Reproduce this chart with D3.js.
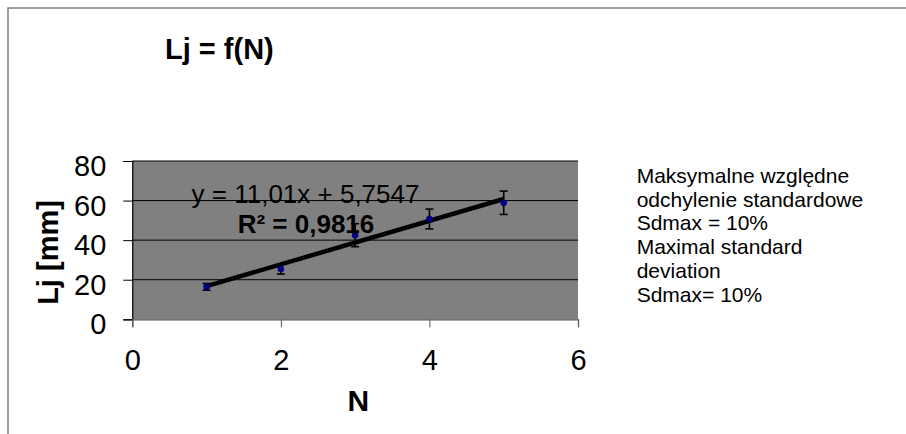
<!DOCTYPE html>
<html><head><meta charset="utf-8">
<script src="https://cdn.jsdelivr.net/npm/d3@7/dist/d3.min.js"></script>
<style>body{margin:0;background:#fff}svg{display:block;font-family:"Liberation Sans",Arial,sans-serif}</style>
</head><body><svg id="c" width="906" height="434"></svg>
<script>
const nValues = [1, 2, 3, 4, 5];
const ljValues = [16.4, 25.4, 42.5, 50.7, 58.9];
const ljErrors = [1.7, 2.5, 5.8, 5.0, 5.9];
const xTicks = [0, 2, 4, 6];
const yTicks = [0, 20, 40, 60, 80];
const trendSlope = 11.01, trendIntercept = 5.7547;
const eqText = "y = 11,01x + 5,7547";
const r2Text = "R² = 0,9816";
const titleText = "Lj = f(N)";
const xTitle = "N", yTitle = "Lj [mm]";
const noteLines = ["Maksymalne względne","odchylenie standardowe","Sdmax = 10%","Maximal standard","deviation","Sdmax= 10%"];

const svg = d3.select("#c");
svg.append("rect").attr("x",8).attr("y",8).attr("width",920).attr("height",450)
  .attr("fill","#fff").attr("stroke","#808080").attr("stroke-width",1.5);

const x = d3.scaleLinear().domain([0,6]).range([132.3,578]);
const y = d3.scaleLinear().domain([0,80]).range([319.3,161]);

svg.append("rect").attr("x",x(0)).attr("y",y(80)).attr("width",x(6)-x(0)).attr("height",y(0)-y(80)).attr("fill","#808080");

// gridlines
svg.append("g").selectAll("line").data(yTicks.filter(d=>d>0)).join("line")
  .attr("x1",x(0)).attr("x2",x(6)).attr("y1",d=>y(d)).attr("y2",d=>y(d))
  .attr("stroke","#000").attr("stroke-width",1);

// axes
const yAxis = svg.append("g").attr("transform",`translate(${x(0)},0)`)
  .call(d3.axisLeft(y).tickValues(yTicks).tickSize(9).tickPadding(17).tickFormat(d3.format("d")));
yAxis.select(".domain").attr("stroke","#000").attr("stroke-width",1.2);
yAxis.selectAll(".tick line").attr("stroke","#000");
yAxis.selectAll("text").attr("font-size",29).attr("fill","#000").attr("font-family","Liberation Sans, Arial").attr("dy","0.5em");

const xAxis = svg.append("g").attr("transform",`translate(0,${y(0)})`)
  .call(d3.axisBottom(x).tickValues(xTicks).tickSize(8).tickPadding(22).tickFormat(d3.format("d")));
xAxis.select(".domain").attr("stroke","#555").attr("stroke-width",1.2);
xAxis.selectAll(".tick line").attr("stroke","#555");
xAxis.selectAll("text").attr("font-size",29).attr("fill","#000").attr("font-family","Liberation Sans, Arial");

// trend line
svg.append("line")
  .attr("x1",x(1)).attr("y1",y(trendSlope*1+trendIntercept))
  .attr("x2",x(5)).attr("y2",y(trendSlope*5+trendIntercept))
  .attr("stroke","#000").attr("stroke-width",4.5).attr("stroke-linecap","butt");

// error bars
const data = nValues.map((n,i)=>({n, v:ljValues[i], e:ljErrors[i]}));
const eb = svg.append("g").attr("stroke","#000").attr("stroke-width",1.6);
eb.selectAll(".v").data(data).join("line").attr("x1",d=>x(d.n)).attr("x2",d=>x(d.n))
  .attr("y1",d=>y(d.v+d.e)).attr("y2",d=>y(d.v-d.e));
eb.selectAll(".t").data(data).join("line").attr("x1",d=>x(d.n)-4).attr("x2",d=>x(d.n)+4)
  .attr("y1",d=>y(d.v+d.e)).attr("y2",d=>y(d.v+d.e));
eb.selectAll(".b").data(data).join("line").attr("x1",d=>x(d.n)-4).attr("x2",d=>x(d.n)+4)
  .attr("y1",d=>y(d.v-d.e)).attr("y2",d=>y(d.v-d.e));

// markers
svg.append("g").selectAll("circle").data(data).join("circle")
  .attr("cx",d=>x(d.n)).attr("cy",d=>y(d.v)).attr("r",3.3).attr("fill","#000080");

// equation
svg.append("text").attr("x",305.5).attr("y",203.3).attr("text-anchor","middle")
  .attr("font-size",26).attr("fill","#000").text(eqText);
svg.append("text").attr("x",306).attr("y",233.3).attr("text-anchor","middle")
  .attr("font-size",26).attr("font-weight","bold").attr("fill","#000").text(r2Text);

// title
svg.append("text").attr("x",165).attr("y",59).attr("font-size",29).attr("font-weight","bold").text(titleText);
// axis titles
svg.append("text").attr("x",358.3).attr("y",410.7).attr("text-anchor","middle")
  .attr("font-size",30).attr("font-weight","bold").text(xTitle);
svg.append("text").attr("transform","translate(58,252.5) rotate(-90)").attr("text-anchor","middle")
  .attr("font-size",29).attr("font-weight","bold").text(yTitle);

// note
svg.append("g").selectAll("text").data(noteLines).join("text")
  .attr("x",636.7).attr("y",(d,i)=>182.7+i*23.8).attr("font-size",21).attr("fill","#000").text(d=>d);
</script></body></html>
